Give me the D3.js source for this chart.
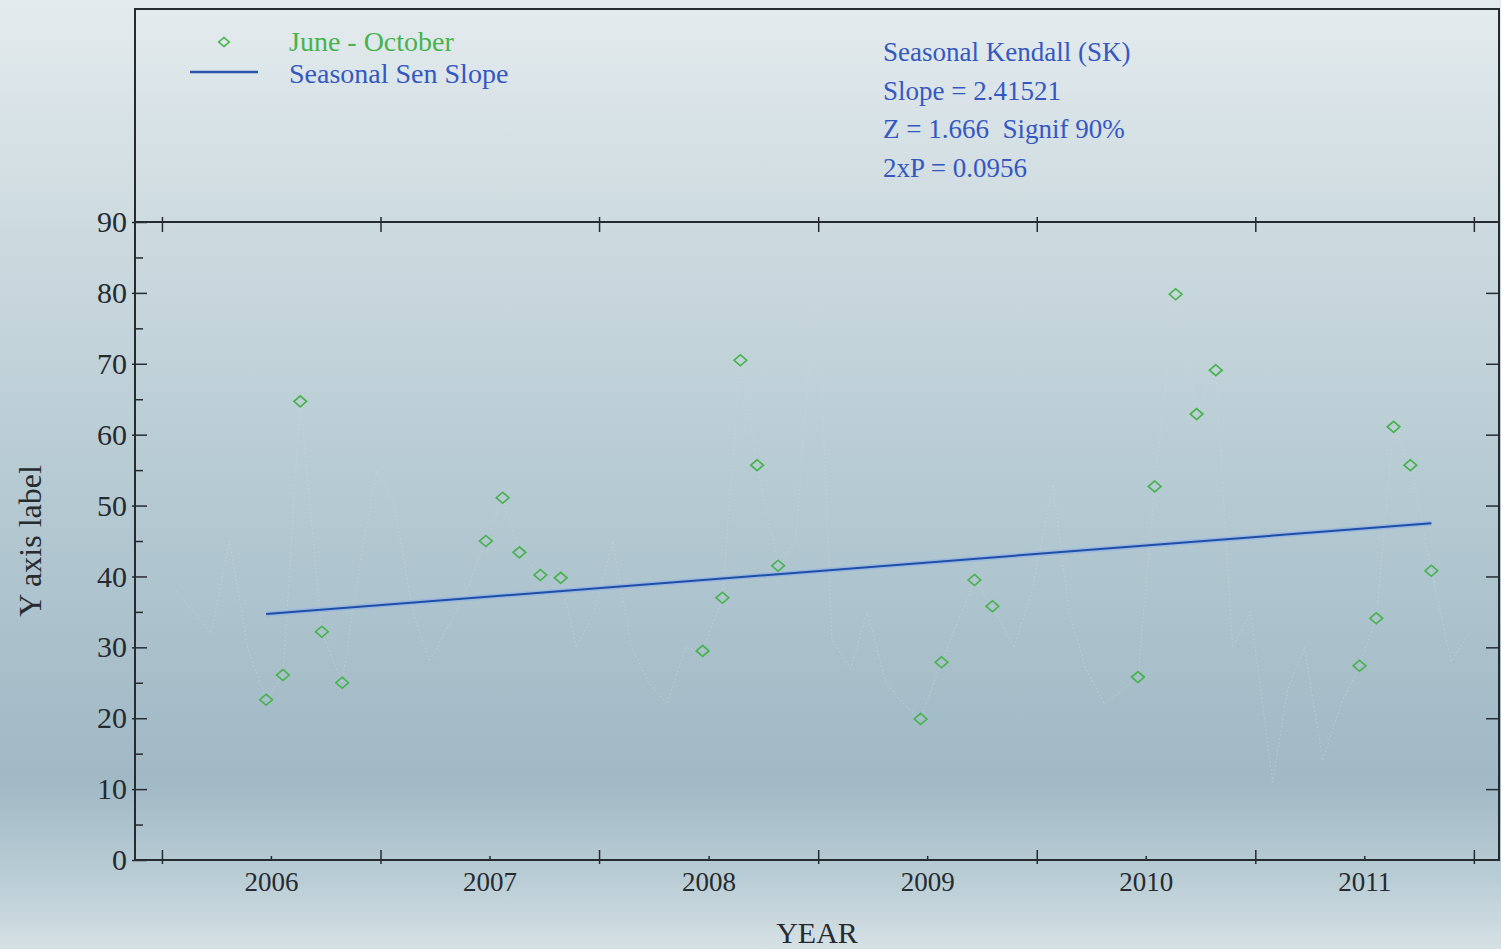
<!DOCTYPE html>
<html>
<head>
<meta charset="utf-8">
<script src="https://cdn.jsdelivr.net/npm/d3@7"></script>
<style>
  html, body { margin: 0; padding: 0; }
  body { width: 1501px; height: 949px; overflow: hidden; }
  svg { display: block; font-family: "Liberation Serif", "DejaVu Serif", serif; }
</style>
</head>
<body>
<script>
// June - October samples
const seasonDates = [
  "2006-06-24", "2006-07-22", "2006-08-20", "2006-09-25", "2006-10-29",
  "2007-06-26", "2007-07-24", "2007-08-21", "2007-09-25", "2007-10-29",
  "2008-06-22", "2008-07-25", "2008-08-24", "2008-09-21", "2008-10-26",
  "2009-06-21", "2009-07-26", "2009-09-19", "2009-10-19",
  "2010-06-19", "2010-07-17", "2010-08-21", "2010-09-25", "2010-10-27",
  "2011-06-24", "2011-07-22", "2011-08-20", "2011-09-17", "2011-10-22"
];
const seasonValues = [
  22.6, 26.1, 64.7, 32.2, 25.0,
  45.0, 51.1, 43.4, 40.2, 39.8,
  29.5, 37.0, 70.5, 55.7, 41.5,
  19.9, 27.9, 39.5, 35.8,
  25.8, 52.7, 79.8, 62.9, 69.1,
  27.4, 34.1, 61.1, 55.7, 40.8
];

// the other months, only a faint dotted trace in the picture
const otherDates = [
  "2006-01-24", "2006-02-24", "2006-03-24", "2006-04-24", "2006-05-24",
  "2006-11-24", "2006-12-26", "2007-01-24", "2007-02-24", "2007-03-24", "2007-04-24", "2007-05-24",
  "2007-11-24", "2007-12-24", "2008-01-24", "2008-02-24", "2008-03-24", "2008-04-24", "2008-05-24",
  "2008-11-24", "2008-12-30", "2009-01-24", "2009-02-24", "2009-03-24", "2009-04-24", "2009-05-24",
  "2009-11-24", "2009-12-24", "2010-01-28", "2010-02-24", "2010-03-24", "2010-04-24", "2010-05-24",
  "2010-11-24", "2010-12-24", "2011-01-30", "2011-02-24", "2011-03-24", "2011-04-24", "2011-05-24",
  "2011-11-24", "2011-12-24"
];
const otherValues = [
  38, 35, 32, 45, 30,
  40, 55, 50, 35, 28, 33, 38,
  30, 35, 45, 30, 25, 22, 30,
  45, 84, 31, 27, 35, 25, 22,
  30, 38, 53, 35, 27, 22, 24,
  30, 35, 11, 24, 30, 14, 22,
  28, 32
];

// seasonal Sen slope trend line
const senDates = ["2006-06-24", "2011-10-22"];
const senValues = [34.7, 47.5];

const yearLabels = [2006, 2007, 2008, 2009, 2010, 2011];
const yMajor = [0, 10, 20, 30, 40, 50, 60, 70, 80, 90];
const yMinor = [5, 15, 25, 35, 45, 55, 65, 75, 85];

const legendLabels = ["June - October", "Seasonal Sen Slope"];
const statLines = ["Seasonal Kendall (SK)", "Slope = 2.41521", "Z = 1.666  Signif 90%", "2xP = 0.0956"];

const W = 1501, H = 949;
const left = 135, right = 1499, frameTop = 9, plotTop = 222, bottom = 860;
const green = "#46b34c", blue = "#3558c0", ink = "#262b30";

const parse = d3.timeParse("%Y-%m-%d");

const svg = d3.select("body").append("svg")
  .attr("width", W)
  .attr("height", H);

// Background gradient
const grad = svg.append("defs").append("linearGradient")
  .attr("id", "bg").attr("x1", 0).attr("y1", 0).attr("x2", 0).attr("y2", 1);
[["0%", "#e4ebee"], ["25%", "#ccdadf"], ["55%", "#b3c8d1"], ["82%", "#a0b9c5"], ["93%", "#bbced6"], ["100%", "#d6e1e5"]]
  .forEach(([o, c]) => grad.append("stop").attr("offset", o).attr("stop-color", c));
svg.append("rect").attr("width", W).attr("height", H).attr("fill", "url(#bg)");

const x = d3.scaleTime()
  .domain([parse("2005-11-17"), parse("2012-02-12")])
  .range([left, right]);
const y = d3.scaleLinear().domain([0, 90]).range([bottom, plotTop]);

// faint trace of all months
const all = seasonDates.map((d, i) => ({ date: parse(d), v: seasonValues[i] }))
  .concat(otherDates.map((d, i) => ({ date: parse(d), v: otherValues[i] })))
  .sort((a, b) => a.date - b.date);

svg.append("path")
  .datum(all)
  .attr("fill", "none")
  .attr("stroke", "#d0d7da")
  .attr("stroke-width", 1)
  .attr("stroke-dasharray", "1.5,2.5")
  .attr("opacity", 0.55)
  .attr("d", d3.line().x(d => x(d.date)).y(d => y(d.v)));

// Sen slope line
const sen = senDates.map((d, i) => ({ date: parse(d), v: senValues[i] }));
const senLine = d3.line().x(d => x(d.date)).y(d => y(d.v));
svg.append("path").datum(sen).attr("fill", "none")
  .attr("stroke", "#8fb0e6").attr("stroke-width", 5).attr("opacity", 0.7).attr("d", senLine);
svg.append("path").datum(sen).attr("fill", "none")
  .attr("stroke", "#1f4ea6").attr("stroke-width", 2).attr("d", senLine);

// June - October markers (open diamonds, a little wider than tall)
const diamond = d3.symbol().type(d3.symbolDiamond2).size(85);
svg.append("g")
  .selectAll("path")
  .data(seasonDates.map((d, i) => ({ date: parse(d), v: seasonValues[i] })))
  .join("path")
  .attr("transform", d => `translate(${x(d.date)},${y(d.v)}) scale(1.1,0.95)`)
  .attr("d", diamond)
  .attr("fill", "none")
  .attr("stroke", green)
  .attr("stroke-width", 1.6);

// Frame
svg.append("rect")
  .attr("x", left).attr("y", frameTop)
  .attr("width", right - left).attr("height", bottom - frameTop)
  .attr("fill", "none").attr("stroke", ink).attr("stroke-width", 2);
svg.append("line")
  .attr("x1", left).attr("x2", right).attr("y1", plotTop).attr("y2", plotTop)
  .attr("stroke", ink).attr("stroke-width", 2);

// Axes
const yearStarts = d3.timeYear.range(parse("2006-01-01"), parse("2012-01-02"));
const yearMids = yearLabels.map(yr => new Date(yr, 6, 2));

function styleAxis(g) {
  g.select(".domain").remove();
  g.selectAll("line").attr("stroke", ink).attr("stroke-width", 1.5);
  g.selectAll("text").attr("fill", ink).attr("font-family", "Liberation Serif, serif");
}

// bottom: major ticks at year starts, small ticks + labels at mid-year
svg.append("g").attr("transform", `translate(0,${bottom + 4})`)
  .call(d3.axisBottom(x).tickValues(yearStarts).tickSizeInner(-14).tickFormat(""))
  .call(styleAxis);
svg.append("g").attr("transform", `translate(0,${bottom})`)
  .call(d3.axisBottom(x).tickValues(yearMids).tickSizeInner(-4).tickPadding(12)
    .tickFormat(d3.timeFormat("%Y")))
  .call(styleAxis)
  .call(g => g.selectAll("text").attr("font-size", 27));

// top edge of plot
svg.append("g").attr("transform", `translate(0,${plotTop - 5})`)
  .call(d3.axisBottom(x).tickValues(yearStarts).tickSizeInner(15).tickFormat(""))
  .call(styleAxis);

// left
svg.append("g").attr("transform", `translate(${left - 3},0)`)
  .call(d3.axisLeft(y).tickValues(yMajor).tickSizeInner(-15).tickPadding(5))
  .call(styleAxis)
  .call(g => g.selectAll("text").attr("font-size", 30));
svg.append("g").attr("transform", `translate(${left},0)`)
  .call(d3.axisLeft(y).tickValues(yMinor).tickSizeInner(-8).tickFormat(""))
  .call(styleAxis);

// right
svg.append("g").attr("transform", `translate(${right},0)`)
  .call(d3.axisRight(y).tickValues(yMajor.slice(1, -1)).tickSizeInner(-13).tickFormat(""))
  .call(styleAxis);

// Axis titles
svg.append("text")
  .attr("x", (left + right) / 2).attr("y", 943)
  .attr("text-anchor", "middle").attr("font-size", 30).attr("fill", ink)
  .text("YEAR");
svg.append("text")
  .attr("transform", `translate(41,${(plotTop + bottom) / 2}) rotate(-90)`)
  .attr("text-anchor", "middle").attr("font-size", 32).attr("fill", ink)
  .text("Y axis label");

// Legend
const legend = svg.append("g");
legend.append("path")
  .attr("transform", "translate(224,42) scale(1.1,0.95)")
  .attr("d", d3.symbol().type(d3.symbolDiamond2).size(60))
  .attr("fill", "none").attr("stroke", green).attr("stroke-width", 1.5);
legend.append("line")
  .attr("x1", 190).attr("x2", 258).attr("y1", 72).attr("y2", 72)
  .attr("stroke", "#2a55b0").attr("stroke-width", 2.5);
legend.selectAll("text")
  .data(legendLabels)
  .join("text")
  .attr("x", 289)
  .attr("y", (d, i) => 51 + i * 32)
  .attr("font-size", 28)
  .attr("fill", (d, i) => i === 0 ? green : blue)
  .text(d => d);

// Statistics block
svg.append("g")
  .selectAll("text")
  .data(statLines)
  .join("text")
  .attr("x", 883)
  .attr("y", (d, i) => 61 + i * 38.5)
  .attr("font-size", 27)
  .attr("fill", blue)
  .attr("xml:space", "preserve")
  .style("white-space", "pre")
  .text(d => d);
</script>
</body>
</html>
